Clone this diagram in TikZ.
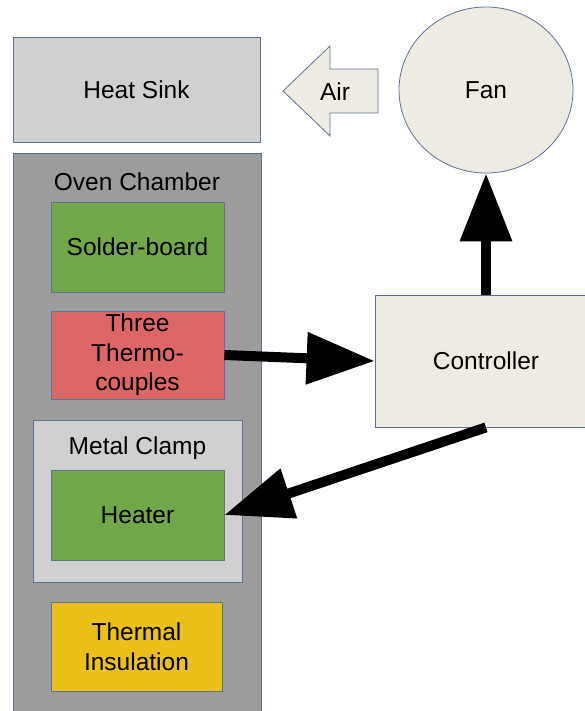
\documentclass[tikz,border=0pt]{standalone}
\usepackage{fontspec}
\setmainfont{Liberation Sans}
\usetikzlibrary{arrows.meta,shapes.geometric}
\definecolor{bordc}{HTML}{5B7296}
\definecolor{sinkc}{HTML}{D0D0D0}
\definecolor{ovenc}{HTML}{9C9C9C}
\definecolor{greenc}{HTML}{70A84A}
\definecolor{redc}{HTML}{DD6666}
\definecolor{yellowc}{HTML}{EAC019}
\definecolor{beigec}{HTML}{EEECE2}
\begin{document}
\begin{tikzpicture}[x=1pt,y=-1pt,
  box/.style={draw=bordc, line width=0.8pt, rectangle, inner sep=0pt, align=center,
    font=\fontsize{24.5}{29.5}\selectfont},
  lbl/.style={inner sep=0pt, font=\fontsize{24.5}{29.5}\selectfont},
  bigarrow/.style={line width=10pt, -{Triangle[length=68pt,width=50pt]}}]
\useasboundingbox (0,0) rectangle (585,711);
% boxes
\node[box, fill=sinkc, minimum width=247pt, minimum height=105pt] (sink) at (136.5,89.5) {Heat Sink};
\node[box, fill=ovenc, minimum width=248pt, minimum height=562pt] (oven) at (137,434) {};
\node[lbl] (ovenlbl) at (137,182) {Oven Chamber};
\node[box, fill=greenc, minimum width=173pt, minimum height=90pt] (solder) at (137.5,247) {Solder-board};
\node[box, fill=redc, minimum width=173pt, minimum height=88pt] (thermo) at (137.5,355) {Three\\Thermo-\\couples};
\node[box, fill=sinkc, minimum width=209pt, minimum height=162pt] (clamp) at (137.5,501) {};
\node[lbl] (clamplbl) at (137.5,448) {Metal Clamp};
\node[box, fill=greenc, minimum width=173pt, minimum height=90pt] (heater) at (137.5,515) {Heater};
\node[box, fill=yellowc, minimum width=171pt, minimum height=89pt] (insul) at (136.5,646.5) {Thermal\\Insulation};
\node[box, fill=beigec, minimum width=222pt, minimum height=132pt] (ctrl) at (486,361) {Controller};
\node[box, fill=beigec, ellipse, minimum width=174pt, minimum height=166pt] (fan) at (486,90) {Fan};
% air arrow
\draw[draw=bordc, line width=0.8pt, fill=beigec]
  (283,91) -- (330,46) -- (330,69) -- (378,69) -- (378,113) -- (330,113) -- (330,136) -- cycle;
\node[lbl] (air) at (335,92) {Air};
% connectors
\draw[bigarrow] (thermo.east) -- (ctrl.west);
\draw[bigarrow] (ctrl.north) -- (fan.south);
\draw[bigarrow] (ctrl.south) -- (heater.east);
\end{tikzpicture}
\end{document}
